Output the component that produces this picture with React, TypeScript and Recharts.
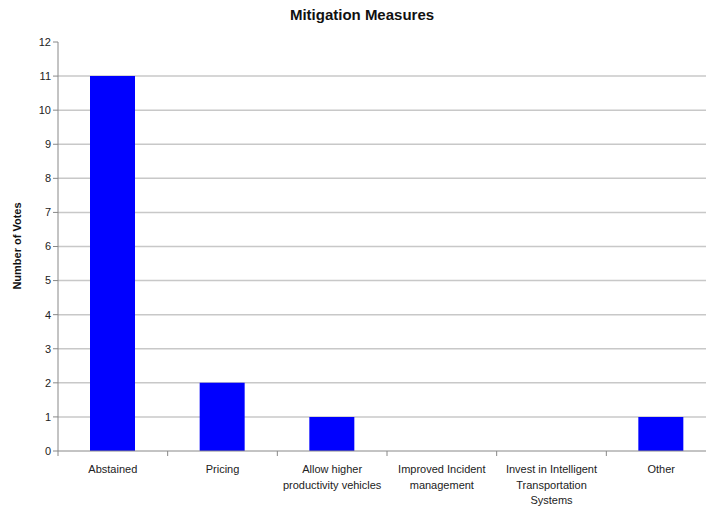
import React from "react";
import { Bar, BarChart, CartesianGrid, XAxis, YAxis } from "recharts";

const categories = [
  "Abstained",
  "Pricing",
  "Allow higher\nproductivity vehicles",
  "Improved Incident\nmanagement",
  "Invest in Intelligent\nTransportation\nSystems",
  "Other",
];
const votes = [11, 2, 1, 0, 0, 1];
const yTicks = [0, 1, 2, 3, 4, 5, 6, 7, 8, 9, 10, 11, 12];
const gridValues = [1, 2, 3, 4, 5, 6, 7, 8, 9, 10, 11];

const data = categories.map((name, i) => ({ name, votes: votes[i] }));

const font = "'Liberation Sans', Arial, sans-serif";
const W = 730;
const M = { top: 42, right: 14, left: 30, bottom: 0 };
const Y_W = 28;
const band = (W - M.left - M.right - Y_W) / categories.length;

const CatTick = (props: any) => {
  const { x, y, payload } = props;
  const lines = String(payload.value).split("\n");
  const bx = x - band / 2;
  return (
    <g>
      <line x1={bx} x2={bx} y1={y} y2={y + 5} stroke="#888" />
      <text x={x} y={y} textAnchor="middle" fontSize={11} fill="#222" fontFamily={font}>
        {lines.map((l, i) => (
          <tspan key={i} x={x} y={y + 22 + i * 15.5}>
            {l}
          </tspan>
        ))}
      </text>
    </g>
  );
};

export default function App() {
  return (
    <div style={{ position: "fixed", left: 0, top: 0, width: 706, height: 506, overflow: "hidden", background: "#fff" }}>
      <div
        style={{
          position: "absolute",
          left: 0,
          width: 724,
          top: 6,
          textAlign: "center",
          fontFamily: font,
          fontWeight: "bold",
          fontSize: 15,
          color: "#111",
        }}
      >
        Mitigation Measures
      </div>
      <div
        style={{
          position: "absolute",
          left: 17,
          top: 246,
          transform: "translate(-50%, -50%) rotate(-90deg)",
          whiteSpace: "nowrap",
          fontFamily: font,
          fontWeight: "bold",
          fontSize: 11,
          color: "#111",
        }}
      >
        Number of Votes
      </div>
      <BarChart width={W} height={506} data={data} margin={M} barSize={45}>
        <CartesianGrid vertical={false} stroke="#c8c8c8" strokeWidth={1.5} horizontalValues={gridValues} />
        <XAxis
          dataKey="name"
          height={55}
          interval={0}
          stroke="#888"
          tickLine={false}
          tickSize={0}
          tickMargin={0}
          tick={<CatTick />}
        />
        <YAxis
          domain={[0, 12]}
          ticks={yTicks}
          interval={0}
          width={Y_W}
          stroke="#888"
          tickSize={5}
          tick={{ fontSize: 11, fill: "#222", fontFamily: font }}
        />
        <Bar dataKey="votes" fill="#0000ff" isAnimationActive={false} />
      </BarChart>
    </div>
  );
}
